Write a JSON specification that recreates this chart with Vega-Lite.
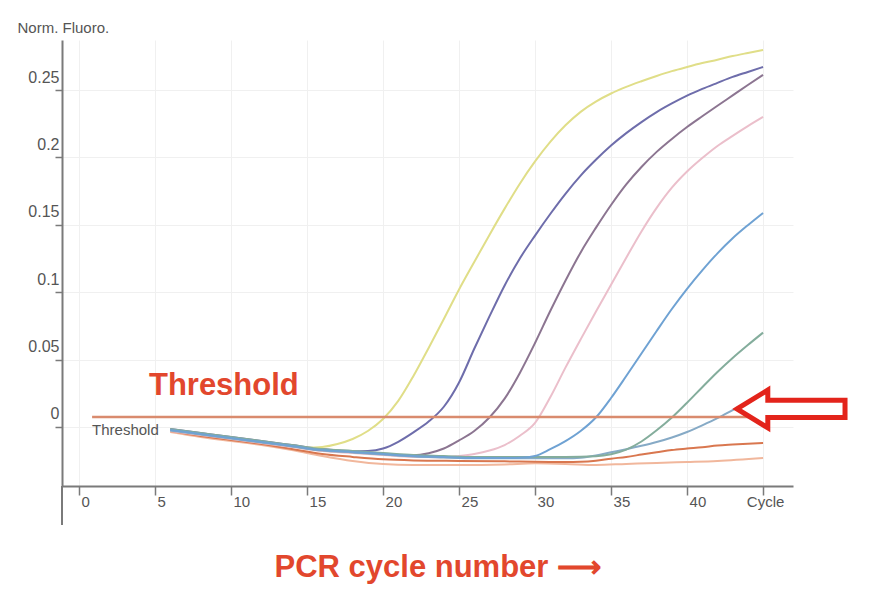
{
  "$schema": "https://vega.github.io/schema/vega-lite/v6.json",
  "autosize": "none",
  "width": 731,
  "height": 446,
  "padding": {"left": 62, "top": 40, "right": 77, "bottom": 110},
  "background": "#ffffff",
  "config": {"view": {"stroke": null}},
  "layer": [
    {
      "data": {"values": [
        {"s":"S9","c":6,"v":-0.0037},{"s":"S9","c":8,"v":-0.0074},{"s":"S9","c":10,"v":-0.0104},{"s":"S9","c":12,"v":-0.0134},{"s":"S9","c":14,"v":-0.0171},{"s":"S9","c":16,"v":-0.0215},{"s":"S9","c":18,"v":-0.0252},{"s":"S9","c":20,"v":-0.0275},{"s":"S9","c":22,"v":-0.0282},{"s":"S9","c":25,"v":-0.0282},{"s":"S9","c":28,"v":-0.0278},{"s":"S9","c":30,"v":-0.0270},{"s":"S9","c":32,"v":-0.0274},{"s":"S9","c":34,"v":-0.0282},{"s":"S9","c":36,"v":-0.0274},{"s":"S9","c":38,"v":-0.0267},{"s":"S9","c":40,"v":-0.0260},{"s":"S9","c":42,"v":-0.0252},{"s":"S9","c":45,"v":-0.0230},
        {"s":"S8","c":6,"v":-0.0030},{"s":"S8","c":8,"v":-0.0067},{"s":"S8","c":10,"v":-0.0096},{"s":"S8","c":12,"v":-0.0126},{"s":"S8","c":14,"v":-0.0163},{"s":"S8","c":16,"v":-0.0200},{"s":"S8","c":18,"v":-0.0222},{"s":"S8","c":20,"v":-0.0240},{"s":"S8","c":22,"v":-0.0248},{"s":"S8","c":25,"v":-0.0252},{"s":"S8","c":28,"v":-0.0255},{"s":"S8","c":30,"v":-0.0258},{"s":"S8","c":32,"v":-0.0260},{"s":"S8","c":33,"v":-0.0258},{"s":"S8","c":34,"v":-0.0250},{"s":"S8","c":35,"v":-0.0235},{"s":"S8","c":36,"v":-0.0222},{"s":"S8","c":37,"v":-0.0205},{"s":"S8","c":38,"v":-0.0188},{"s":"S8","c":39,"v":-0.0171},{"s":"S8","c":40,"v":-0.0160},{"s":"S8","c":41,"v":-0.0150},{"s":"S8","c":42,"v":-0.0137},{"s":"S8","c":43,"v":-0.0130},{"s":"S8","c":44,"v":-0.0124},{"s":"S8","c":45,"v":-0.0119},
        {"s":"S4","c":6,"v":-0.0030},{"s":"S4","c":8,"v":-0.0060},{"s":"S4","c":10,"v":-0.0089},{"s":"S4","c":12,"v":-0.0119},{"s":"S4","c":14,"v":-0.0148},{"s":"S4","c":16,"v":-0.0178},{"s":"S4","c":18,"v":-0.0193},{"s":"S4","c":20,"v":-0.0208},{"s":"S4","c":22,"v":-0.0223},{"s":"S4","c":24,"v":-0.0225},{"s":"S4","c":25,"v":-0.0215},{"s":"S4","c":26,"v":-0.0200},{"s":"S4","c":27,"v":-0.0175},{"s":"S4","c":28,"v":-0.0134},{"s":"S4","c":29,"v":-0.0065},{"s":"S4","c":30,"v":0.0030},{"s":"S4","c":31,"v":0.0220},{"s":"S4","c":32,"v":0.0440},{"s":"S4","c":33,"v":0.0650},{"s":"S4","c":34,"v":0.0855},{"s":"S4","c":35,"v":0.1055},{"s":"S4","c":36,"v":0.1255},{"s":"S4","c":37,"v":0.1450},{"s":"S4","c":38,"v":0.1625},{"s":"S4","c":39,"v":0.1775},{"s":"S4","c":40,"v":0.1895},{"s":"S4","c":41,"v":0.1995},{"s":"S4","c":42,"v":0.2085},{"s":"S4","c":43,"v":0.2160},{"s":"S4","c":44,"v":0.2232},{"s":"S4","c":45,"v":0.2300},
        {"s":"S3","c":6,"v":-0.0022},{"s":"S3","c":8,"v":-0.0052},{"s":"S3","c":10,"v":-0.0082},{"s":"S3","c":12,"v":-0.0111},{"s":"S3","c":14,"v":-0.0141},{"s":"S3","c":16,"v":-0.0171},{"s":"S3","c":18,"v":-0.0185},{"s":"S3","c":20,"v":-0.0200},{"s":"S3","c":22,"v":-0.0210},{"s":"S3","c":23,"v":-0.0195},{"s":"S3","c":24,"v":-0.0160},{"s":"S3","c":25,"v":-0.0100},{"s":"S3","c":26,"v":-0.0030},{"s":"S3","c":27,"v":0.0070},{"s":"S3","c":28,"v":0.0210},{"s":"S3","c":29,"v":0.0401},{"s":"S3","c":30,"v":0.0623},{"s":"S3","c":31,"v":0.0860},{"s":"S3","c":32,"v":0.1085},{"s":"S3","c":33,"v":0.1295},{"s":"S3","c":34,"v":0.1477},{"s":"S3","c":35,"v":0.1647},{"s":"S3","c":36,"v":0.1800},{"s":"S3","c":37,"v":0.1929},{"s":"S3","c":38,"v":0.2041},{"s":"S3","c":39,"v":0.2137},{"s":"S3","c":40,"v":0.2225},{"s":"S3","c":41,"v":0.2305},{"s":"S3","c":42,"v":0.2383},{"s":"S3","c":43,"v":0.2460},{"s":"S3","c":44,"v":0.2537},{"s":"S3","c":45,"v":0.2612},
        {"s":"S2","c":6,"v":-0.0015},{"s":"S2","c":8,"v":-0.0045},{"s":"S2","c":10,"v":-0.0075},{"s":"S2","c":12,"v":-0.0104},{"s":"S2","c":14,"v":-0.0134},{"s":"S2","c":16,"v":-0.0164},{"s":"S2","c":18,"v":-0.0180},{"s":"S2","c":19,"v":-0.0178},{"s":"S2","c":20,"v":-0.0160},{"s":"S2","c":21,"v":-0.0110},{"s":"S2","c":22,"v":-0.0040},{"s":"S2","c":23,"v":0.0040},{"s":"S2","c":24,"v":0.0150},{"s":"S2","c":25,"v":0.0330},{"s":"S2","c":26,"v":0.0580},{"s":"S2","c":27,"v":0.0820},{"s":"S2","c":28,"v":0.1050},{"s":"S2","c":29,"v":0.1250},{"s":"S2","c":30,"v":0.1420},{"s":"S2","c":31,"v":0.1580},{"s":"S2","c":32,"v":0.1730},{"s":"S2","c":33,"v":0.1865},{"s":"S2","c":34,"v":0.1982},{"s":"S2","c":35,"v":0.2088},{"s":"S2","c":36,"v":0.2180},{"s":"S2","c":37,"v":0.2262},{"s":"S2","c":38,"v":0.2336},{"s":"S2","c":39,"v":0.2400},{"s":"S2","c":40,"v":0.2458},{"s":"S2","c":41,"v":0.2508},{"s":"S2","c":42,"v":0.2553},{"s":"S2","c":43,"v":0.2597},{"s":"S2","c":44,"v":0.2634},{"s":"S2","c":45,"v":0.2671},
        {"s":"S1","c":6,"v":-0.0022},{"s":"S1","c":8,"v":-0.0052},{"s":"S1","c":10,"v":-0.0082},{"s":"S1","c":12,"v":-0.0111},{"s":"S1","c":14,"v":-0.0141},{"s":"S1","c":15,"v":-0.0154},{"s":"S1","c":16,"v":-0.0148},{"s":"S1","c":17,"v":-0.0126},{"s":"S1","c":18,"v":-0.0089},{"s":"S1","c":19,"v":-0.0030},{"s":"S1","c":20,"v":0.0059},{"s":"S1","c":21,"v":0.0193},{"s":"S1","c":22,"v":0.0378},{"s":"S1","c":23,"v":0.0586},{"s":"S1","c":24,"v":0.0801},{"s":"S1","c":25,"v":0.1020},{"s":"S1","c":26,"v":0.1224},{"s":"S1","c":27,"v":0.1425},{"s":"S1","c":28,"v":0.1620},{"s":"S1","c":29,"v":0.1805},{"s":"S1","c":30,"v":0.1970},{"s":"S1","c":31,"v":0.2115},{"s":"S1","c":32,"v":0.2238},{"s":"S1","c":33,"v":0.2338},{"s":"S1","c":34,"v":0.2414},{"s":"S1","c":35,"v":0.2474},{"s":"S1","c":36,"v":0.2523},{"s":"S1","c":37,"v":0.2565},{"s":"S1","c":38,"v":0.2604},{"s":"S1","c":39,"v":0.2640},{"s":"S1","c":40,"v":0.2671},{"s":"S1","c":41,"v":0.2700},{"s":"S1","c":42,"v":0.2725},{"s":"S1","c":43,"v":0.2752},{"s":"S1","c":44,"v":0.2775},{"s":"S1","c":45,"v":0.2797},
        {"s":"S7","c":6,"v":-0.0026},{"s":"S7","c":8,"v":-0.0056},{"s":"S7","c":10,"v":-0.0086},{"s":"S7","c":12,"v":-0.0115},{"s":"S7","c":14,"v":-0.0145},{"s":"S7","c":16,"v":-0.0175},{"s":"S7","c":18,"v":-0.0189},{"s":"S7","c":20,"v":-0.0204},{"s":"S7","c":22,"v":-0.0219},{"s":"S7","c":24,"v":-0.0226},{"s":"S7","c":26,"v":-0.0232},{"s":"S7","c":28,"v":-0.0232},{"s":"S7","c":30,"v":-0.0232},{"s":"S7","c":32,"v":-0.0232},{"s":"S7","c":33,"v":-0.0228},{"s":"S7","c":34,"v":-0.0212},{"s":"S7","c":35,"v":-0.0188},{"s":"S7","c":36,"v":-0.0165},{"s":"S7","c":37,"v":-0.0140},{"s":"S7","c":38,"v":-0.0112},{"s":"S7","c":39,"v":-0.0078},{"s":"S7","c":40,"v":-0.0037},{"s":"S7","c":41,"v":0.0012},{"s":"S7","c":42,"v":0.0065},{"s":"S7","c":43,"v":0.0125},{"s":"S7","c":44,"v":0.0186},{"s":"S7","c":45,"v":0.0245},
        {"s":"S6","c":6,"v":-0.0015},{"s":"S6","c":8,"v":-0.0045},{"s":"S6","c":10,"v":-0.0075},{"s":"S6","c":12,"v":-0.0104},{"s":"S6","c":14,"v":-0.0134},{"s":"S6","c":16,"v":-0.0164},{"s":"S6","c":18,"v":-0.0178},{"s":"S6","c":20,"v":-0.0193},{"s":"S6","c":22,"v":-0.0208},{"s":"S6","c":24,"v":-0.0215},{"s":"S6","c":26,"v":-0.0223},{"s":"S6","c":28,"v":-0.0223},{"s":"S6","c":30,"v":-0.0223},{"s":"S6","c":32,"v":-0.0223},{"s":"S6","c":34,"v":-0.0218},{"s":"S6","c":35,"v":-0.0203},{"s":"S6","c":36,"v":-0.0168},{"s":"S6","c":37,"v":-0.0108},{"s":"S6","c":38,"v":-0.0025},{"s":"S6","c":39,"v":0.0070},{"s":"S6","c":40,"v":0.0180},{"s":"S6","c":41,"v":0.0295},{"s":"S6","c":42,"v":0.0408},{"s":"S6","c":43,"v":0.0512},{"s":"S6","c":44,"v":0.0608},{"s":"S6","c":45,"v":0.0700},
        {"s":"S5","c":6,"v":-0.0022},{"s":"S5","c":8,"v":-0.0052},{"s":"S5","c":10,"v":-0.0082},{"s":"S5","c":12,"v":-0.0111},{"s":"S5","c":14,"v":-0.0141},{"s":"S5","c":16,"v":-0.0171},{"s":"S5","c":18,"v":-0.0185},{"s":"S5","c":20,"v":-0.0200},{"s":"S5","c":22,"v":-0.0215},{"s":"S5","c":24,"v":-0.0223},{"s":"S5","c":26,"v":-0.0230},{"s":"S5","c":28,"v":-0.0230},{"s":"S5","c":29,"v":-0.0228},{"s":"S5","c":30,"v":-0.0215},{"s":"S5","c":31,"v":-0.0165},{"s":"S5","c":32,"v":-0.0105},{"s":"S5","c":33,"v":-0.0030},{"s":"S5","c":34,"v":0.0070},{"s":"S5","c":35,"v":0.0215},{"s":"S5","c":36,"v":0.0378},{"s":"S5","c":37,"v":0.0545},{"s":"S5","c":38,"v":0.0712},{"s":"S5","c":39,"v":0.0875},{"s":"S5","c":40,"v":0.1025},{"s":"S5","c":41,"v":0.1162},{"s":"S5","c":42,"v":0.1288},{"s":"S5","c":43,"v":0.1400},{"s":"S5","c":44,"v":0.1497},{"s":"S5","c":45,"v":0.1588}
      ]},
      "mark": {"type": "line", "interpolate": "monotone", "strokeWidth": 2},
      "encoding": {
        "x": {
          "field": "c", "type": "quantitative",
          "scale": {"domain": [-1.12, 46.97], "nice": false, "zero": false},
          "axis": {
            "values": [0, 5, 10, 15, 20, 25, 30, 35, 40, 45],
            "labelExpr": "datum.value == 45 ? 'Cycle' : datum.label",
            "labelAlign": {"condition": {"test": "datum.value == 45", "value": "center"}, "value": "left"},
            "labelOffset": 2,
            "labelBaseline": "top",
            "labelPadding": -1,
            "labelFlush": false,
            "labelOverlap": false,
            "labelFont": "Liberation Sans",
            "labelFontSize": 15,
            "labelColor": "#555555",
            "tickSize": 9,
            "tickColor": "#7a7a7a",
            "tickWidth": 1.5,
            "domainColor": "#7a7a7a",
            "domainWidth": 2,
            "grid": true,
            "gridColor": "#f0f0f0",
            "title": "PCR cycle number ⟶",
            "titleFont": "Liberation Sans",
            "titleFontSize": 31,
            "titleFontWeight": "bold",
            "titleColor": "#e2472d",
            "titleAlign": "left",
            "titleBaseline": "middle",
            "titleX": 212,
            "titleY": 81
          }
        },
        "y": {
          "field": "v", "type": "quantitative",
          "scale": {"domain": [-0.0438, 0.2871], "nice": false, "zero": false},
          "axis": {
            "values": [0, 0.05, 0.1, 0.15, 0.2, 0.25],
            "format": ".2~f",
            "labelOffset": -13,
            "labelPadding": -4,
            "labelBaseline": "middle",
            "labelFont": "Liberation Sans",
            "labelFontSize": 16,
            "labelColor": "#555555",
            "tickSize": 7,
            "tickColor": "#7a7a7a",
            "tickWidth": 1.5,
            "domainColor": "#7a7a7a",
            "domainWidth": 2,
            "grid": true,
            "gridColor": "#f0f0f0",
            "title": "Norm. Fluoro.",
            "titleAngle": 0,
            "titleAlign": "left",
            "titleBaseline": "middle",
            "titleX": -45,
            "titleY": -13,
            "titleFont": "Liberation Sans",
            "titleFontSize": 15,
            "titleFontWeight": "normal",
            "titleColor": "#555555"
          }
        },
        "color": {
          "field": "s", "type": "nominal", "legend": null,
          "scale": {
            "domain": ["S9", "S8", "S4", "S3", "S2", "S1", "S7", "S6", "S5"],
            "range": ["#f1b79c", "#d9774f", "#ebbfcb", "#8c7591", "#6e6dab", "#e0de88", "#86aac6", "#84ad9c", "#6fa2d3"]
          }
        }
      }
    },
    {
      "data": {"values": [{"c": 0.86, "c2": 45, "v": 0.0074}]},
      "mark": {"type": "rule", "color": "#d98b6e", "strokeWidth": 2.5},
      "encoding": {
        "x": {"field": "c", "type": "quantitative"},
        "x2": {"field": "c2"},
        "y": {"field": "v", "type": "quantitative"}
      }
    },
    {
      "data": {"values": [{"c": -1.12, "v": -0.0438, "v2": -0.0727}]},
      "mark": {"type": "rule", "color": "#7a7a7a", "strokeWidth": 2, "clip": false},
      "encoding": {
        "x": {"field": "c", "type": "quantitative"},
        "y": {"field": "v", "type": "quantitative"},
        "y2": {"field": "v2"}
      }
    },
    {
      "data": {"values": [{"c": 0.86, "v": -0.0022, "t": "Threshold"}]},
      "mark": {"type": "text", "align": "left", "baseline": "middle", "font": "Liberation Sans", "fontSize": 15, "color": "#555555"},
      "encoding": {
        "x": {"field": "c", "type": "quantitative"},
        "y": {"field": "v", "type": "quantitative"},
        "text": {"field": "t"}
      }
    },
    {
      "data": {"values": [{"c": 4.6, "v": 0.0304, "t": "Threshold"}]},
      "mark": {"type": "text", "align": "left", "baseline": "middle", "font": "Liberation Sans", "fontSize": 31, "fontWeight": "bold", "color": "#e2472d"},
      "encoding": {
        "x": {"field": "c", "type": "quantitative"},
        "y": {"field": "v", "type": "quantitative"},
        "text": {"field": "t"}
      }
    },
    {
      "data": {"values": [{"c": 46.84, "v": 0.0134}]},
      "mark": {
        "type": "point",
        "shape": "M -1 0 L -0.43 -0.35 L -0.43 -0.16 L 1 -0.16 L 1 0.16 L -0.43 0.16 L -0.43 0.35 Z",
        "size": 11664,
        "filled": true,
        "fill": "#ffffff",
        "stroke": "#e3241b",
        "strokeWidth": 5,
        "opacity": 1,
        "clip": false
      },
      "encoding": {
        "x": {"field": "c", "type": "quantitative"},
        "y": {"field": "v", "type": "quantitative"}
      }
    }
  ]
}
